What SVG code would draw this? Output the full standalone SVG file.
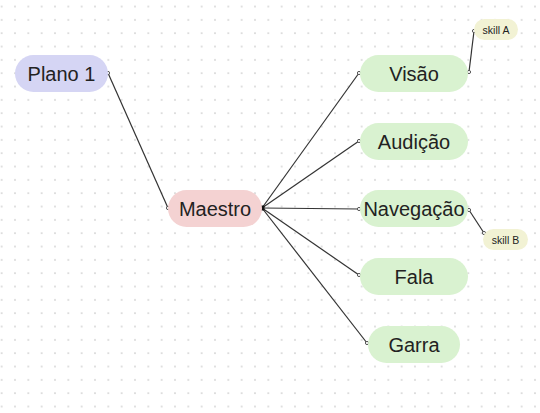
<svg xmlns="http://www.w3.org/2000/svg" width="540" height="413" viewBox="0 0 540 413">
<style>
text{font-family:"Liberation Sans",Arial,sans-serif;fill:#222;text-anchor:middle;dominant-baseline:central}
.main{font-size:20px}
.skill{font-size:10.5px}
.g{fill:#d9f2d0}
.s{fill:#f2f2d4}
.c line{stroke:#333;stroke-width:1.2}
.c circle{fill:#fff;stroke:#555;stroke-width:1}
</style>
<defs>
<pattern id="dots" x="1.67" y="6.5" width="13.333" height="13.333" patternUnits="userSpaceOnUse">
<circle cx="0" cy="0" r="0.8" fill="#bdbdbd"/>
<circle cx="13.333" cy="0" r="0.8" fill="#bdbdbd"/>
<circle cx="0" cy="13.333" r="0.8" fill="#bdbdbd"/>
<circle cx="13.333" cy="13.333" r="0.8" fill="#bdbdbd"/>
</pattern>
</defs>
<rect width="540" height="413" fill="#fff"/>
<rect width="540" height="413" fill="url(#dots)"/>
<g id="connectors" class="c">
<line x1="108" y1="73" x2="168" y2="208"/>
<line x1="262" y1="208" x2="359" y2="73"/>
<line x1="262" y1="208" x2="359" y2="141"/>
<line x1="262" y1="208" x2="359" y2="209"/>
<line x1="262" y1="208" x2="359" y2="275"/>
<line x1="262" y1="208" x2="367" y2="343"/>
<line x1="469" y1="72" x2="474" y2="31"/>
<line x1="469" y1="210" x2="484" y2="233"/>
<circle cx="108" cy="73" r="1.6"/>
<circle cx="168" cy="208" r="1.6"/>
<circle cx="359" cy="73" r="1.6"/>
<circle cx="359" cy="141" r="1.6"/>
<circle cx="359" cy="209" r="1.6"/>
<circle cx="359" cy="275" r="1.6"/>
<circle cx="367" cy="343" r="1.6"/>
<circle cx="469" cy="72" r="1.6"/>
<circle cx="474" cy="31" r="1.6"/>
<circle cx="469" cy="210" r="1.6"/>
<circle cx="484" cy="233" r="1.6"/>
<rect x="259.5" y="205.5" width="5" height="5" fill="#111"/>
</g>
<g id="plano1"><rect x="15" y="55" width="93" height="37" rx="18.5" fill="#d5d5f4"/><text class="main" x="61.5" y="73.5">Plano 1</text></g>
<g id="maestro"><rect x="168" y="190" width="94" height="37" rx="18.5" fill="#f4d2d2"/><text class="main" x="215" y="208.5">Maestro</text></g>
<g id="visao"><rect x="360" y="55" width="108" height="37" rx="18.5" class="g"/><text class="main" x="414" y="73.5">Visão</text></g>
<g id="audicao"><rect x="360" y="123" width="108" height="37" rx="18.5" class="g"/><text class="main" x="414" y="141.5">Audição</text></g>
<g id="navegacao"><rect x="360" y="190" width="108" height="37" rx="18.5" class="g"/><text class="main" x="414" y="208.5">Navegação</text></g>
<g id="fala"><rect x="360" y="258" width="108" height="37" rx="18.5" class="g"/><text class="main" x="414" y="276.5">Fala</text></g>
<g id="garra"><rect x="368" y="326" width="92" height="37" rx="18.5" class="g"/><text class="main" x="414" y="344.5">Garra</text></g>
<g id="skillA"><rect x="474" y="19" width="44" height="21" rx="10.5" class="s"/><text class="skill" x="496" y="29.5">skill A</text></g>
<g id="skillB"><rect x="483" y="229" width="45" height="21" rx="10.5" class="s"/><text class="skill" x="505.5" y="239.5">skill B</text></g>
</svg>
